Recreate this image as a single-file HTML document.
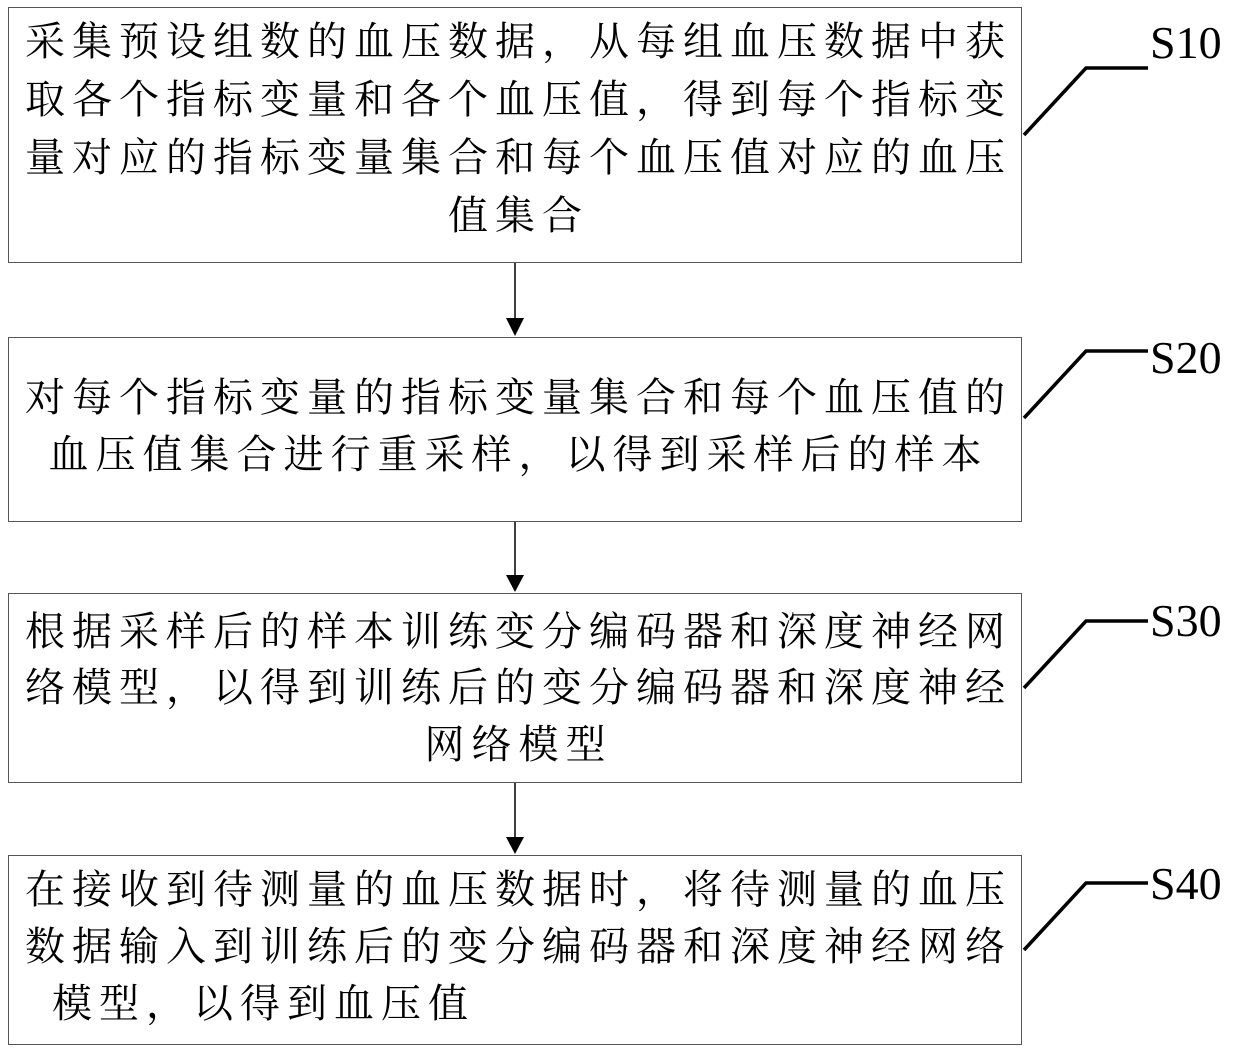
<!DOCTYPE html>
<html><head><meta charset="utf-8"><style>
body{margin:0;width:1240px;height:1050px;background:#fff;position:relative;overflow:hidden;font-family:"Liberation Serif","Noto Serif CJK SC",serif;}
.b{position:absolute;left:8px;width:1014px;border:1.5px solid #555;box-sizing:border-box;}
.l{position:absolute;left:8px;width:1014px;text-align:center;font-size:40px;letter-spacing:7px;line-height:44px;color:#000;white-space:nowrap;text-indent:7px;}
.s{position:absolute;font-size:46px;color:#000;font-family:"Liberation Serif",serif;}
</style></head><body>
<div class="b" style="top:7px;height:256px"></div>
<div class="b" style="top:337px;height:185px"></div>
<div class="b" style="top:593px;height:190px"></div>
<div class="b" style="top:855px;height:190px"></div>

<div class="l" style="top:20px">采集预设组数的血压数据，从每组血压数据中获</div>
<div class="l" style="top:78px">取各个指标变量和各个血压值，得到每个指标变</div>
<div class="l" style="top:136px">量对应的指标变量集合和每个血压值对应的血压</div>
<div class="l" style="top:194px">值集合</div>

<div class="l" style="top:376px">对每个指标变量的指标变量集合和每个血压值的</div>
<div class="l" style="top:433px">血压值集合进行重采样，以得到采样后的样本</div>

<div class="l" style="top:610px">根据采样后的样本训练变分编码器和深度神经网</div>
<div class="l" style="top:666px">络模型，以得到训练后的变分编码器和深度神经</div>
<div class="l" style="top:723px">网络模型</div>

<div class="l" style="top:868px">在接收到待测量的血压数据时，将待测量的血压</div>
<div class="l" style="top:925px">数据输入到训练后的变分编码器和深度神经网络</div>
<div class="l" style="top:982px;text-align:left;left:45px">模型，以得到血压值</div>

<svg width="1240" height="1050" style="position:absolute;left:0;top:0">
<g stroke="#000" stroke-width="1.5">
<line x1="515" y1="263" x2="515" y2="320"/>
<line x1="515" y1="522" x2="515" y2="576"/>
<line x1="515" y1="783" x2="515" y2="838"/>
</g>
<g fill="#000">
<polygon points="506,318 524,318 515,336"/>
<polygon points="506,575 524,575 515,592"/>
<polygon points="506,837 524,837 515,854"/>
</g>
<g stroke="#000" stroke-width="3.5" fill="none">
<polyline points="1024,135 1086,68 1148,68"/>
<polyline points="1024,418 1086,351 1148,351"/>
<polyline points="1024,688 1086,621 1148,621"/>
<polyline points="1024,950 1086,883 1148,883"/>
</g>
</svg>
<div class="s" style="left:1150px;top:16px">S10</div>
<div class="s" style="left:1150px;top:331px">S20</div>
<div class="s" style="left:1150px;top:594px">S30</div>
<div class="s" style="left:1150px;top:857px">S40</div>
</body></html>
